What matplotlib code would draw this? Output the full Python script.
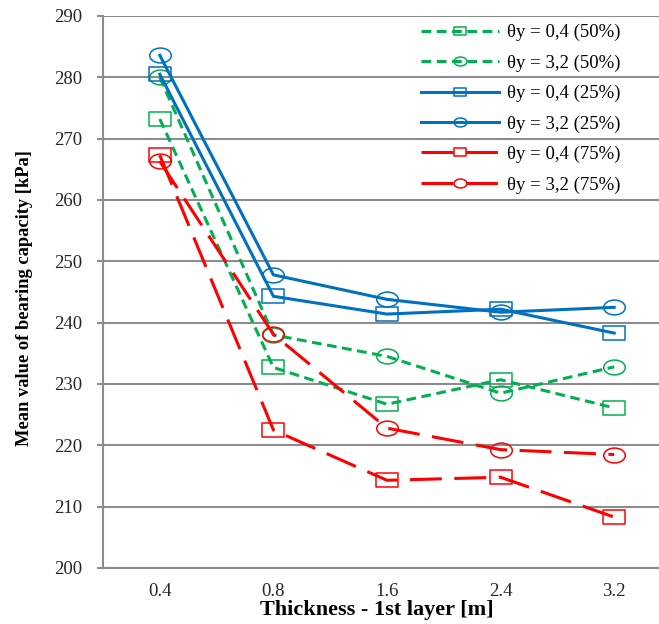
import matplotlib
matplotlib.use("Agg")
import matplotlib.pyplot as plt
from matplotlib.path import Path
from matplotlib.transforms import Affine2D
import numpy as np

# ---- data ----
categories = ["0.4", "0.8", "1.6", "2.4", "3.2"]
g_sq_50 = [273.2, 232.7, 226.7, 230.7, 226.1]   # θy = 0,4 (50%)
g_ci_50 = [280.0, 238.0, 234.5, 228.5, 232.8]   # θy = 3,2 (50%)
b_sq_25 = [280.5, 244.3, 241.4, 242.2, 238.3]   # θy = 0,4 (25%)
b_ci_25 = [283.6, 247.8, 243.8, 241.7, 242.5]   # θy = 3,2 (25%)
r_sq_75 = [267.3, 222.5, 214.3, 214.8, 208.3]   # θy = 0,4 (75%)
r_ci_75 = [266.3, 238.1, 222.8, 219.3, 218.5]   # θy = 3,2 (75%)
labels = ["θy = 0,4 (50%)", "θy = 3,2 (50%)", "θy = 0,4 (25%)",
          "θy = 3,2 (25%)", "θy = 0,4 (75%)", "θy = 3,2 (75%)"]
yticks = [200, 210, 220, 230, 240, 250, 260, 270, 280, 290]

plt.rcParams['font.family'] = ['Liberation Serif', 'DejaVu Serif']
plt.rcParams['lines.scale_dashes'] = False

# stretched (wide) markers
sx = 1.45
sq = Path([(-sx, -1), (sx, -1), (sx, 1), (-sx, 1), (-sx, -1)],
          [Path.MOVETO, Path.LINETO, Path.LINETO, Path.LINETO, Path.CLOSEPOLY])
ci = Path.unit_circle().transformed(Affine2D().scale(sx, 1))

GREEN, BLUE, RED = "#00B050", "#0070C0", "#FF0000"
GRID = "#8C8C8C"

fig = plt.figure(figsize=(6.59, 6.24), dpi=100)
W, H = 659, 624
x0, x1 = 103, 671
y0, y1 = 568, 16
ax = fig.add_axes([x0 / W, (H - y0) / H, (x1 - x0) / W, (y0 - y1) / H])

x = np.arange(len(categories))
series = [
    (g_sq_50, GREEN, sq, (7, 4)),
    (g_ci_50, GREEN, ci, (7, 4)),
    (b_sq_25, BLUE, sq, None),
    (b_ci_25, BLUE, ci, None),
    (r_sq_75, RED, sq, (23, 9)),
    (r_ci_75, RED, ci, (23, 9)),
]
for (vals, col, mk, dash), lab in zip(series, labels):
    kw = dict(color=col, lw=2.2, marker=mk, markersize=15.5,
              markerfacecolor='none', markeredgecolor=col,
              markeredgewidth=1.1, label=lab)
    if dash is not None:
        kw['linestyle'] = (0, dash)
    ax.plot(x, vals, **kw)

ax.set_xlim(-0.5, len(categories) - 0.5)
ax.set_ylim(200, 290)
ax.set_yticks(yticks)
ax.set_xticks(x)
ax.set_xticklabels(categories)
ax.yaxis.grid(True, color=GRID, lw=1.5)
ax.set_axisbelow(True)
for s in ['top', 'right']:
    ax.spines[s].set_visible(False)
for s in ['left', 'bottom']:
    ax.spines[s].set_color(GRID)
    ax.spines[s].set_linewidth(1.5)
ax.tick_params(axis='y', direction='out', length=4.5, width=1.5, color=GRID,
               pad=10.5, labelsize=13.5, labelcolor='#262626')
ax.tick_params(axis='x', length=0, pad=11, labelsize=13.5, labelcolor='#262626')

xl = ax.set_xlabel("Thickness - 1st layer [m]", fontsize=16, fontweight='bold')
ax.xaxis.set_label_coords((376.5 - x0) / (x1 - x0), -(610 - y0) / (y0 - y1))
xl.set_va('center')
yl = ax.set_ylabel("Mean value of bearing capacity [kPa]", fontsize=13.3, fontweight='bold')
ax.yaxis.set_label_coords((25 - x0) / (x1 - x0), (y0 - 298) / (y0 - y1))
yl.set_va('center')

leg = ax.legend(loc='upper left', bbox_to_anchor=(421 / W, 1 - 24 / H),
                bbox_transform=fig.transFigure, frameon=False, fontsize=13.5,
                handlelength=4.16, handletextpad=0.43, labelspacing=0.70,
                borderpad=0, borderaxespad=0, markerscale=0.6)

fig.savefig("out.png", dpi=100)
